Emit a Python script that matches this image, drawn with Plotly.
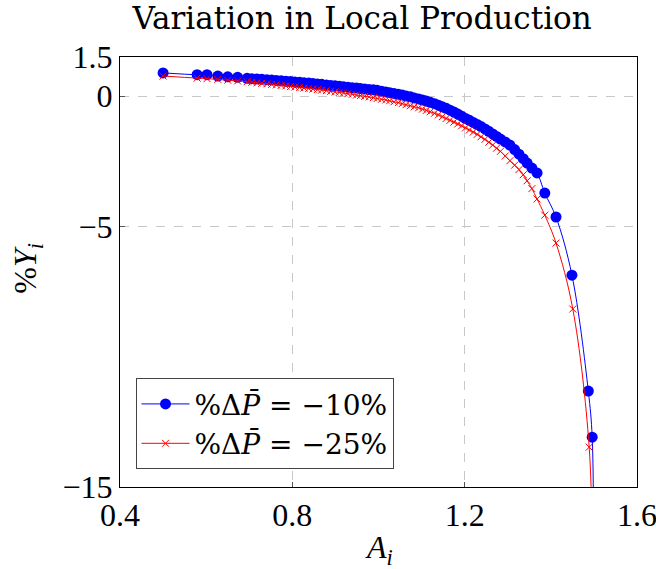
import plotly.graph_objects as go

# Productivity A_i (same regions for both scenarios)
A = [0.500, 0.579, 0.602, 0.627, 0.650, 0.673, 0.695, 0.706, 0.718, 0.729,
     0.741, 0.752, 0.763, 0.774, 0.785, 0.796, 0.806, 0.817, 0.827, 0.838,
     0.848, 0.858, 0.868, 0.879, 0.889, 0.899, 0.909, 0.919, 0.929, 0.939,
     0.949, 0.958, 0.968, 0.978, 0.988, 0.997, 1.007, 1.017, 1.026, 1.036,
     1.046, 1.055, 1.064, 1.074, 1.083, 1.093, 1.102, 1.111, 1.120, 1.130,
     1.139, 1.148, 1.157, 1.166, 1.175, 1.184, 1.193, 1.202, 1.211, 1.220,
     1.229, 1.238, 1.247, 1.256, 1.265, 1.274, 1.283, 1.294, 1.305, 1.316,
     1.326, 1.336, 1.345, 1.356, 1.368, 1.386, 1.412, 1.449, 1.487, 1.496,
     1.499]

# %Y_i with %dP = -10%
Y10 = [0.89, 0.82, 0.82, 0.77, 0.74, 0.72, 0.68, 0.67, 0.66, 0.65,
       0.63, 0.62, 0.60, 0.59, 0.57, 0.56, 0.54, 0.53, 0.51, 0.50,
       0.48, 0.46, 0.45, 0.43, 0.41, 0.40, 0.38, 0.36, 0.34, 0.32,
       0.31, 0.29, 0.27, 0.25, 0.24, 0.22, 0.19, 0.16, 0.13, 0.10,
       0.07, 0.04, 0.00, -0.03, -0.07, -0.11, -0.15, -0.19, -0.24, -0.29,
       -0.35, -0.41, -0.47, -0.54, -0.61, -0.69, -0.77, -0.86, -0.93, -1.01,
       -1.09, -1.17, -1.26, -1.35, -1.45, -1.55, -1.65, -1.76, -1.88, -2.05,
       -2.23, -2.40, -2.57, -2.76, -2.95, -3.72, -4.64, -6.87, -11.32, -13.09,
       -18.5]

# %Y_i with %dP = -25%
A25 = [0.500, 0.579, 0.602, 0.627, 0.650, 0.673, 0.695, 0.706, 0.718, 0.729,
       0.741, 0.752, 0.763, 0.774, 0.785, 0.796, 0.806, 0.817, 0.827, 0.838,
       0.848, 0.858, 0.868, 0.879, 0.889, 0.899, 0.909, 0.919, 0.929, 0.939,
       0.949, 0.958, 0.968, 0.978, 0.988, 0.997, 1.007, 1.017, 1.026, 1.036,
       1.046, 1.055, 1.064, 1.074, 1.083, 1.093, 1.102, 1.111, 1.120, 1.130,
       1.139, 1.148, 1.157, 1.166, 1.175, 1.184, 1.193, 1.202, 1.211, 1.220,
       1.229, 1.238, 1.247, 1.256, 1.265, 1.274, 1.283, 1.294, 1.305, 1.316,
       1.326, 1.336, 1.345, 1.356, 1.368, 1.386, 1.412, 1.451, 1.489, 1.496]
Y25 = [0.77, 0.69, 0.67, 0.64, 0.61, 0.58, 0.55, 0.53, 0.51, 0.49,
       0.47, 0.45, 0.43, 0.41, 0.39, 0.37, 0.35, 0.33, 0.31, 0.29,
       0.27, 0.25, 0.23, 0.21, 0.18, 0.16, 0.14, 0.12, 0.09, 0.07,
       0.04, 0.02, -0.01, -0.03, -0.06, -0.09, -0.12, -0.15, -0.18, -0.22,
       -0.25, -0.29, -0.33, -0.37, -0.41, -0.45, -0.50, -0.55, -0.60, -0.66,
       -0.72, -0.79, -0.86, -0.93, -1.00, -1.07, -1.14, -1.22, -1.30, -1.38,
       -1.47, -1.56, -1.66, -1.77, -1.88, -2.00, -2.12, -2.30, -2.48, -2.65,
       -2.82, -3.02, -3.25, -3.55, -3.95, -4.57, -5.64, -8.17, -13.47, -18.5]

xticks = [0.4, 0.8, 1.2, 1.6]
yticks = [1.5, 0, -5, -15]
ytick_text = ["1.5", "0", "\u22125", "\u221215"]

SERIF = "DejaVu Serif"
TICKF = "Liberation Serif"

fig = go.Figure()
fig.add_trace(go.Scatter(
    x=A, y=Y10, mode="lines+markers",
    name="%\u0394<i>P\u0304</i> = \u221210%",
    line=dict(color="#0000ff", width=1, shape="spline"),
    marker=dict(symbol="circle", size=11, color="#0000ff"),
))
fig.add_trace(go.Scatter(
    x=A25, y=Y25, mode="lines+markers",
    name="%\u0394<i>P\u0304</i> = \u221225%",
    line=dict(color="#ff0000", width=1, shape="spline"),
    marker=dict(symbol="x-thin", size=7, color="#ff0000",
                line=dict(color="#ff0000", width=1)),
))

axis_common = dict(
    showgrid=True, gridcolor="#c8c8c8", griddash="dash", gridwidth=1,
    showline=True, linecolor="black", linewidth=1, mirror=True,
    ticks="inside", ticklen=5, tickcolor="#555555",
    zeroline=False, ticklabeloverflow="allow",
    tickfont=dict(family=TICKF, size=32, color="black"),
)

fig.update_layout(
    width=656, height=569,
    margin=dict(l=120, r=19, t=57, b=82, autoexpand=False),
    paper_bgcolor="white", plot_bgcolor="white",
    title=dict(text="Variation in Local Production", x=0.552, xanchor="center",
               y=0.968, yanchor="middle",
               font=dict(family=SERIF, size=31, color="black")),
    xaxis=dict(range=[0.4, 1.6], tickvals=xticks,
               ticktext=[str(v) for v in xticks], **axis_common),
    yaxis=dict(range=[-15, 1.5], tickvals=yticks, ticktext=ytick_text,
               **axis_common),
    legend=dict(x=0.03, y=0.253, xanchor="left", yanchor="top",
                bgcolor="white", bordercolor="#444444", borderwidth=1,
                font=dict(family=SERIF, size=28, color="black"),
                itemwidth=48, tracegroupgap=0),
    showlegend=True,
    annotations=[
        dict(text="<i>A<sub>i</sub></i>", xref="paper", yref="paper",
             x=0.5, y=-0.145, xanchor="center", yanchor="middle",
             showarrow=False,
             font=dict(family=TICKF, size=32, color="black")),
        dict(text="%<i>Y<sub>i</sub></i>", xref="paper", yref="paper",
             x=-0.178, y=0.51, xanchor="center", yanchor="middle",
             textangle=-90, showarrow=False,
             font=dict(family=TICKF, size=32, color="black")),
    ],
)

fig.write_html("out.html")
